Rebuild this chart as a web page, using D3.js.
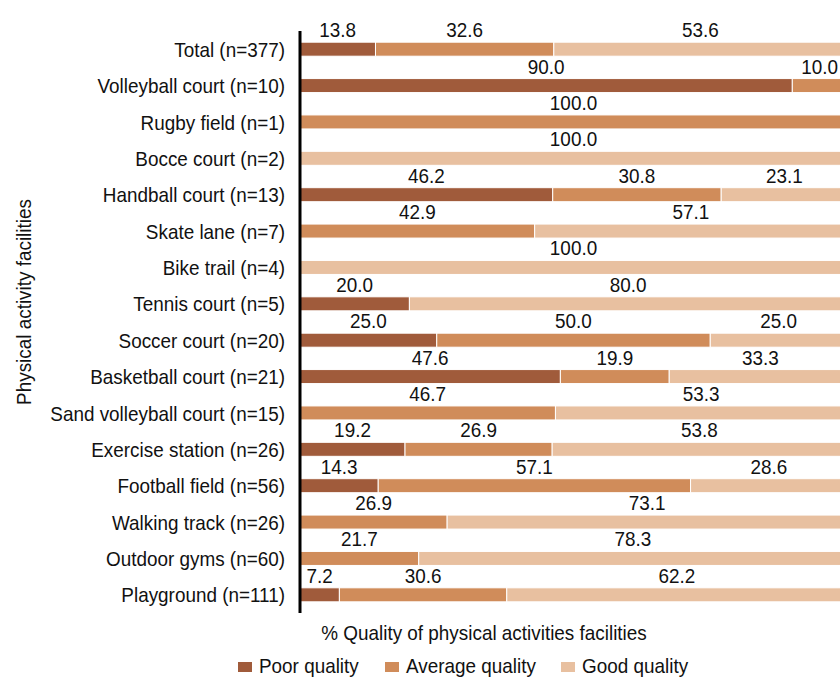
<!DOCTYPE html>
<html>
<head>
<meta charset="utf-8">
<script src="https://cdn.jsdelivr.net/npm/d3@7"></script>
<style>
  body { margin: 0; background: #fff; }
  text { font-family: "Liberation Sans", Arial, sans-serif; fill: #111; }
</style>
</head>
<body>
<script>
var w = 840,
    h = 678;

var categories = [
  "Total (n=377)", "Volleyball court (n=10)", "Rugby field (n=1)", "Bocce court (n=2)",
  "Handball court (n=13)", "Skate lane (n=7)", "Bike trail (n=4)", "Tennis court (n=5)",
  "Soccer court (n=20)", "Basketball court (n=21)", "Sand volleyball court (n=15)",
  "Exercise station (n=26)", "Football field (n=56)", "Walking track (n=26)",
  "Outdoor gyms (n=60)", "Playground (n=111)"
];
var poor    = [13.8, 90.0, 0, 0, 46.2, 0, 0, 20.0, 25.0, 47.6, 0, 19.2, 14.3, 0, 0, 7.2];
var average = [32.6, 10.0, 100.0, 0, 30.8, 42.9, 0, 0, 50.0, 19.9, 46.7, 26.9, 57.1, 26.9, 21.7, 30.6];
var good    = [53.6, 0, 0, 100.0, 23.1, 57.1, 100.0, 80.0, 25.0, 33.3, 53.3, 53.8, 28.6, 73.1, 78.3, 62.2];
var seriesNames = ["Poor quality", "Average quality", "Good quality"];
var seriesColors = ["#a05b3b", "#d08c5a", "#e8c0a0"];

// the original uses a condensed face; squeeze Liberation Sans horizontally
var sx = 0.9;
function place(x, y) { return "translate(" + x + "," + y + ") scale(" + sx + ",1)"; }

var svg = d3.select("body").append("svg")
    .attr("width", w)
    .attr("height", h);

var x = d3.scaleLinear().domain([0, 100]).range([300, 847]);
var y = d3.scalePoint().domain(d3.range(categories.length)).range([31, 613]).padding(0.5);
var barH = 14;

var table = categories.map(function(c, i) {
  return {cat: c, i: i, values: [poor[i], average[i], good[i]]};
});

var segs = [];
table.forEach(function(d) {
  var start = 0;
  d.values.forEach(function(v, k) {
    if (v > 0) segs.push({i: d.i, k: k, x0: start, x1: start + v, v: v});
    start += v;
  });
});

svg.selectAll("rect.seg")
    .data(segs)
    .enter().append("rect")
    .attr("class", "seg")
    .attr("x", function(d) { return x(d.x0); })
    .attr("y", function(d) { return y(d.i) - barH / 2; })
    .attr("width", function(d) { return x(d.x1) - x(d.x0); })
    .attr("height", barH)
    .attr("fill", function(d) { return seriesColors[d.k]; })
    .attr("stroke", "#fff")
    .attr("stroke-width", 1);

svg.selectAll("text.val")
    .data(segs)
    .enter().append("text")
    .attr("class", "val")
    .attr("transform", function(d) {
      return place((x(d.x0) + x(d.x1)) / 2, y(d.i) - barH / 2 - 5);
    })
    .attr("text-anchor", "middle")
    .style("font-size", "21px")
    .text(function(d) { return d.v.toFixed(1); });

svg.selectAll("text.cat")
    .data(table)
    .enter().append("text")
    .attr("class", "cat")
    .attr("transform", function(d) { return place(285, y(d.i)); })
    .attr("dy", "0.36em")
    .attr("text-anchor", "end")
    .style("font-size", "21px")
    .text(function(d) { return d.cat; });

svg.append("line")
    .attr("x1", 300).attr("x2", 300)
    .attr("y1", 31).attr("y2", 613)
    .attr("stroke", "#000")
    .attr("stroke-width", 3);

svg.append("text")
    .attr("transform", "translate(31,302) rotate(-90) scale(" + sx + ",1)")
    .attr("text-anchor", "middle")
    .style("font-size", "21px")
    .text("Physical activity facilities");

svg.append("text")
    .attr("transform", place(484, 640))
    .attr("text-anchor", "middle")
    .style("font-size", "21px")
    .text("% Quality of physical activities facilities");

var legendX = [238, 385, 561];
var lg = svg.selectAll("g.leg")
    .data(seriesNames)
    .enter().append("g")
    .attr("class", "leg")
    .attr("transform", function(d, i) { return "translate(" + legendX[i] + ",662)"; });

lg.append("rect")
    .attr("width", 14)
    .attr("height", 10)
    .attr("fill", function(d, i) { return seriesColors[i]; });

lg.append("text")
    .attr("transform", place(21, 11))
    .style("font-size", "21px")
    .text(function(d) { return d; });
</script>
</body>
</html>
